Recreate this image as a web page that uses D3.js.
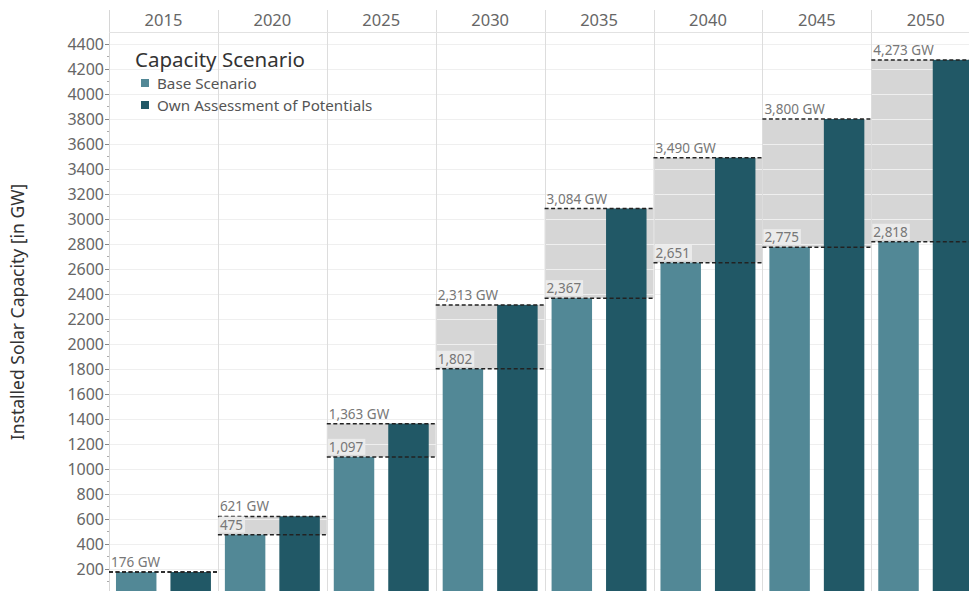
<!DOCTYPE html>
<html>
<head>
<meta charset="utf-8">
<script src="https://cdn.jsdelivr.net/npm/d3@7"></script>
<style>
  body { margin: 0; background: #fff; }
  text { font-family: "Noto Sans", "Open Sans", sans-serif; }
</style>
</head>
<body>
<div id="chart"></div>
<script>
// chart values
var years = ["2015", "2020", "2025", "2030", "2035", "2040", "2045", "2050"]
var baseValues = [176, 475, 1097, 1802, 2367, 2651, 2775, 2818]
var ownValues = [176, 621, 1363, 2313, 3084, 3490, 3800, 4273]
var seriesNames = ["Base Scenario", "Own Assessment of Potentials"]
var yTickValues = d3.range(200, 4401, 200)

var width = 969, height = 591
var plotLeft = 109, plotTop = 32, plotBottom = 594
var colWidth = 108.9

var baseColor = "#528896", ownColor = "#215866", bandColor = "#d6d6d6"

var svg = d3.select("#chart").append("svg")
    .attr("width", width)
    .attr("height", height)

var x = d3.scaleBand().domain(years).range([plotLeft, plotLeft + colWidth * years.length])
var inner = d3.scaleBand().domain(seriesNames).range([0, colWidth])
    .paddingInner(0.257).paddingOuter(0.128)
var y = d3.scaleLinear().domain([0, 4496]).range([plotBottom, plotTop])

var rows = years.map(function(yr, i) { return {year: yr, base: baseValues[i], own: ownValues[i]} })

// gray band between the scenarios
svg.selectAll("rect.band").data(rows).enter().append("rect")
    .attr("class", "band")
    .attr("x", function(d) { return x(d.year) })
    .attr("width", x.bandwidth())
    .attr("y", function(d) { return y(d.own) })
    .attr("height", function(d) { return y(d.base) - y(d.own) })
    .attr("fill", bandColor)

// horizontal gridlines
svg.selectAll("line.grid").data(yTickValues).enter().append("line")
    .attr("x1", plotLeft).attr("x2", width)
    .attr("y1", function(d) { return Math.round(y(d)) + 0.5 })
    .attr("y2", function(d) { return Math.round(y(d)) + 0.5 })
    .attr("stroke", "#efefef")

// bars
svg.selectAll("rect.base").data(rows).enter().append("rect")
    .attr("x", function(d) { return x(d.year) + inner(seriesNames[0]) })
    .attr("width", inner.bandwidth())
    .attr("y", function(d) { return y(d.base) })
    .attr("height", function(d) { return plotBottom - y(d.base) })
    .attr("fill", baseColor)
svg.selectAll("rect.own").data(rows).enter().append("rect")
    .attr("x", function(d) { return x(d.year) + inner(seriesNames[1]) })
    .attr("width", inner.bandwidth())
    .attr("y", function(d) { return y(d.own) })
    .attr("height", function(d) { return plotBottom - y(d.own) })
    .attr("fill", ownColor)

// column dividers and header
svg.selectAll("line.col").data(years).enter().append("line")
    .attr("x1", function(d) { return Math.round(x(d) + colWidth) + 0.5 })
    .attr("x2", function(d) { return Math.round(x(d) + colWidth) + 0.5 })
    .attr("y1", 10).attr("y2", height)
    .attr("stroke", "#dddddd")
svg.append("line")
    .attr("x1", plotLeft + 0.5).attr("x2", plotLeft + 0.5)
    .attr("y1", 10).attr("y2", height)
    .attr("stroke", "#d6d6d6")
svg.append("line")
    .attr("x1", plotLeft).attr("x2", width)
    .attr("y1", plotTop + 0.5).attr("y2", plotTop + 0.5)
    .attr("stroke", "#e2e2e2")
svg.selectAll("text.year").data(years).enter().append("text")
    .attr("x", function(d) { return x(d) + colWidth / 2 })
    .attr("y", 26)
    .attr("text-anchor", "middle")
    .attr("font-size", 16.5)
    .attr("fill", "#666")
    .text(function(d) { return d })

// dashed reference lines
function dashed(getVal) {
  svg.selectAll(null).data(rows).enter().append("line")
      .attr("x1", function(d) { return x(d.year) })
      .attr("x2", function(d) { return x(d.year) + colWidth })
      .attr("y1", function(d) { return y(getVal(d)) })
      .attr("y2", function(d) { return y(getVal(d)) })
      .attr("stroke", "#222")
      .attr("stroke-width", 1.5)
      .attr("stroke-dasharray", "4,2.5")
}
dashed(function(d) { return d.base })
dashed(function(d) { return d.own })

// value labels
var fmt = d3.format(",")
svg.selectAll("text.top").data(rows).enter().append("text")
    .attr("x", function(d) { return x(d.year) + 2 })
    .attr("y", function(d) { return y(d.own) - 5 })
    .attr("font-size", 13.5)
    .attr("fill", "#777")
    .text(function(d) { return fmt(d.own) + " GW" })

var baseLabels = svg.selectAll("g.baselab").data(rows.filter(function(d) { return d.base !== d.own }))
    .enter().append("g")
baseLabels.append("text")
    .attr("x", function(d) { return x(d.year) + 2 })
    .attr("y", function(d) { return y(d.base) - 5 })
    .attr("font-size", 13.5)
    .attr("fill", "#777")
    .text(function(d) { return fmt(d.base) })
baseLabels.insert("rect", "text")
    .attr("x", function(d) { return x(d.year) + 1 })
    .attr("y", function(d) { return y(d.base) - 18 })
    .attr("height", 16)
    .attr("width", function() { return this.parentNode.querySelector("text").getComputedTextLength() + 3 })
    .attr("fill", "#ebebeb")

// y axis
var axis = svg.append("g")
    .attr("transform", "translate(" + plotLeft + ",0)")
    .call(d3.axisLeft(y).tickValues(yTickValues).tickFormat(d3.format("d")).tickSize(4).tickPadding(1))
axis.select(".domain").remove()
axis.selectAll(".tick line").attr("stroke", "#888")
axis.selectAll(".tick text")
    .attr("font-size", 16)
    .attr("fill", "#666")
    .style("font-family", "'Noto Sans', sans-serif")
svg.selectAll("line.minor").data(d3.range(100, 4500, 200)).enter().append("line")
    .attr("x1", plotLeft - 2).attr("x2", plotLeft)
    .attr("y1", function(d) { return y(d) }).attr("y2", function(d) { return y(d) })
    .attr("stroke", "#aaa")

svg.append("text")
    .attr("transform", "translate(24,312) rotate(-90)")
    .attr("text-anchor", "middle")
    .attr("font-size", 17.5)
    .attr("fill", "#333")
    .text("Installed Solar Capacity [in GW]")

// legend
var legend = svg.append("g").attr("transform", "translate(135,0)")
legend.append("text")
    .attr("x", 0).attr("y", 67)
    .attr("font-size", 20.5)
    .attr("fill", "#333")
    .text("Capacity Scenario")
legend.selectAll("rect").data(seriesNames).enter().append("rect")
    .attr("x", 6)
    .attr("y", function(d, i) { return 79 + i * 22 })
    .attr("width", 8).attr("height", 8)
    .attr("fill", function(d, i) { return [baseColor, ownColor][i] })
legend.selectAll("text.item").data(seriesNames).enter().append("text")
    .attr("x", 22)
    .attr("y", function(d, i) { return 89 + i * 22 })
    .attr("font-size", 15.2)
    .attr("fill", "#555")
    .text(function(d) { return d })
</script>
</body>
</html>
